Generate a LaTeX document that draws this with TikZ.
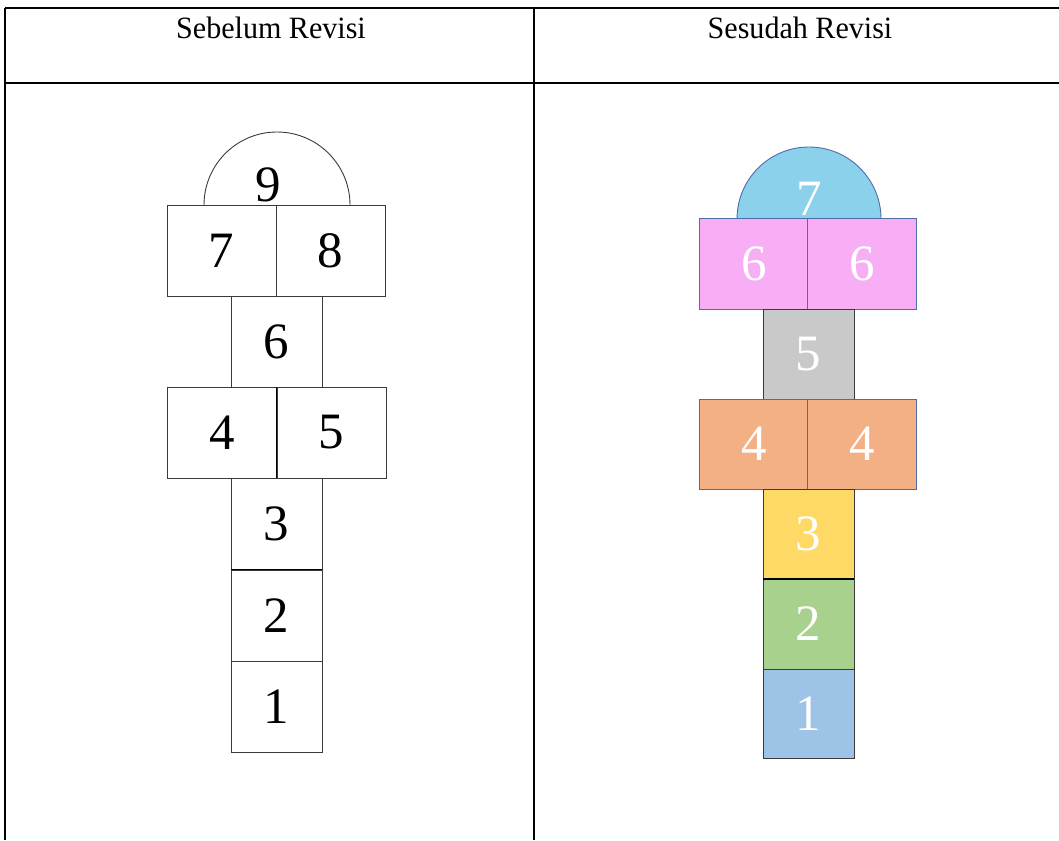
\documentclass[tikz,border=0pt]{standalone}
\usepackage{fontspec}
\setmainfont{Liberation Serif}
\definecolor{cSky}{HTML}{8BD1EB}
\definecolor{cPink}{HTML}{F7AEF5}
\definecolor{cGray}{HTML}{C9C9C9}
\definecolor{cOrange}{HTML}{F3B084}
\definecolor{cYellow}{HTML}{FED966}
\definecolor{cGreen}{HTML}{A9D18E}
\definecolor{cLBlue}{HTML}{9DC3E6}
\definecolor{cStroke}{HTML}{4F6CA6}
\definecolor{cDark}{HTML}{3A3A3A}
\tikzset{
  tabline/.style={line width=1.6pt, black},
  hdr/.style={font=\fontsize{31}{34}\selectfont, inner sep=0pt, xscale=0.97},
  oldbox/.style={draw=cDark, line width=0.9pt, inner sep=0pt, outer sep=0pt, font=\fontsize{51}{55}\selectfont, text=black},
  newbox/.style={draw=cStroke, line width=0.9pt, inner sep=0pt, outer sep=0pt, font=\fontsize{51}{55}\selectfont, text=white},
  wide/.style={minimum width=109pt, minimum height=91pt},
  narrow/.style={minimum width=91pt, minimum height=91pt},
  numtext/.style={inner sep=0pt, font=\fontsize{51}{55}\selectfont}
}
\begin{document}
\begin{tikzpicture}[x=1pt,y=1pt]
\useasboundingbox (0,0) rectangle (1059,-840);
% table
\coordinate (tl) at (5,-8);
\coordinate (tr) at (1059,-8);
\coordinate (ml) at (5,-83);
\coordinate (mr) at (1059,-83);
\coordinate (bl) at (5,-840);
\coordinate (ct) at (534,-8);
\coordinate (cb) at (534,-840);
\draw[tabline] (tl) -- (tr);
\draw[tabline] (ml) -- (mr);
\draw[tabline] (tl) -- (bl);
\draw[tabline] (ct) -- (cb);
\node[hdr] (h1) at (271,-28) {Sebelum Revisi};
\node[hdr] (h2) at (800,-28) {Sesudah Revisi};

% ---- before revision ----
\draw[draw=cDark, line width=0.9pt] (204,-205) arc[start angle=180, end angle=0, radius=73pt];
\node[numtext] (o9) at (268,-185) {9};
\node[oldbox, wide] (o7) at (221.5,-250.5) {7};
\node[oldbox, wide] (o8) at (330.5,-250.5) {8};
\node[oldbox, narrow] (o6) at (276.5,-341.5) {6};
\node[oldbox, wide] (o4) at (222,-432.5) {4};
\node[oldbox, wide] (o5) at (331.5,-432.5) {5};
\draw[line width=1.6pt] (o4.north east) -- (o4.south east);
\node[oldbox, narrow] (o3) at (276.5,-524) {3};
\node[oldbox, narrow] (o2) at (276.5,-615.5) {2};
\node[oldbox, narrow] (o1) at (276.5,-706.5) {1};
\draw[line width=1.4pt] (o3.south west) -- (o3.south east);

% ---- after revision ----
\draw[draw=cStroke, fill=cSky, line width=0.9pt] (737,-219) arc[start angle=180, end angle=0, radius=72pt] -- cycle;
\node[numtext, text=white] (n7) at (809,-199) {7};
\node[newbox, wide, fill=cPink] (n6a) at (754,-264) {6};
\node[newbox, wide, fill=cPink] (n6b) at (862,-264) {6};
\node[newbox, narrow, draw=cDark, fill=cGray, minimum height=90pt] (n5) at (808.5,-354) {5};
\node[newbox, wide, fill=cOrange, minimum height=90pt] (n4a) at (754,-444) {4};
\node[newbox, wide, fill=cOrange, minimum height=90pt] (n4b) at (862,-444) {4};
\node[newbox, narrow, draw=cDark, fill=cYellow, minimum height=90pt] (n3) at (808.5,-534) {3};
\node[newbox, narrow, draw=cDark, fill=cGreen, minimum height=90pt] (n2) at (808.5,-624) {2};
\node[newbox, narrow, draw=cDark, fill=cLBlue, minimum height=89pt] (n1) at (808.5,-713.5) {1};
\draw[line width=1.4pt, black] (n3.south west) -- (n3.south east);
\end{tikzpicture}
\end{document}
